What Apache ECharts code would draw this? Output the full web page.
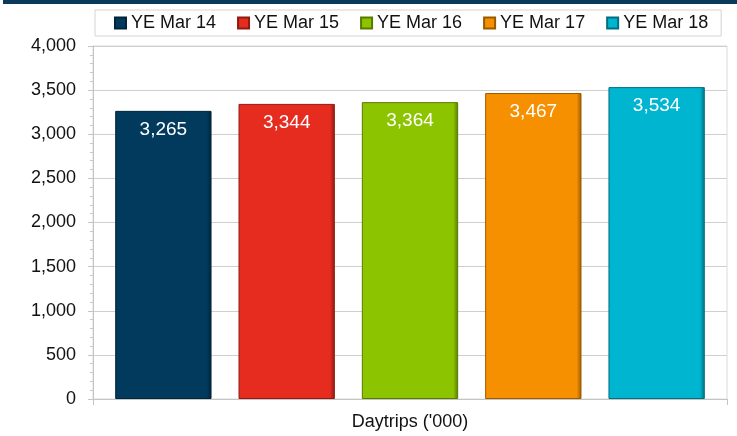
<!DOCTYPE html>
<html>
<head>
<meta charset="utf-8">
<script src="https://cdn.jsdelivr.net/npm/echarts@6/dist/echarts.min.js"></script>
<style>
  html, body { margin: 0; padding: 0; background: #fff; }
  #chart { width: 737px; height: 436px; }
</style>
</head>
<body>
<div id="chart"></div>
<script>
var categories = ["Daytrips ('000)"];
var seriesNames = ['YE Mar 14', 'YE Mar 15', 'YE Mar 16', 'YE Mar 17', 'YE Mar 18'];
var seriesValues = [3265, 3344, 3364, 3467, 3534];
var seriesColors = ['#023a5e', '#e52c1f', '#8cc400', '#f79000', '#00b5d0'];
var edgeColors = ['#01243b', '#8e1a12', '#577a00', '#9a5a00', '#006f80'];
var yTicks = [0, 500, 1000, 1500, 2000, 2500, 3000, 3500, 4000];

var font = 'Liberation Sans';

function fmt(v) {
  return Number(v).toLocaleString('en-US');
}

var chart = echarts.init(document.getElementById('chart'), null, { renderer: 'canvas' });

var series = seriesNames.map(function (name, i) {
  return {
    name: name,
    type: 'bar',
    data: [seriesValues[i]],
    barGap: '28%',
    barCategoryGap: '7%',
    itemStyle: {
      color: new echarts.graphic.LinearGradient(0, 0, 1, 0, [
        { offset: 0, color: seriesColors[i] },
        { offset: 0.95, color: seriesColors[i] },
        { offset: 1, color: edgeColors[i] }
      ]),
      borderColor: edgeColors[i],
      borderWidth: 1
    },
    label: {
      show: true,
      position: 'insideTop',
      distance: 9,
      color: '#fff',
      fontFamily: font,
      fontSize: 19,
      formatter: function (p) { return fmt(p.value); }
    },
    animation: false
  };
});

var option = {
  backgroundColor: '#fff',
  color: seriesColors,
  graphic: [{
    type: 'rect',
    left: 3,
    top: 0,
    shape: { width: 734, height: 4 },
    style: { fill: '#0b3b5c' }
  }],
  legend: {
    data: seriesNames,
    left: 95,
    top: 10,
    padding: [4, 13, 4, 19],
    itemGap: 21,
    itemWidth: 11,
    itemHeight: 11,
    icon: 'rect',
    borderColor: '#d4d4d4',
    borderWidth: 1,
    textStyle: { fontFamily: font, fontSize: 18, color: '#111' }
  },
  grid: {
    left: 93,
    right: 10,
    top: 46,
    bottom: 37,
    show: true,
    borderColor: '#dadada',
    borderWidth: 1
  },
  xAxis: {
    type: 'category',
    data: categories,
    axisLine: { lineStyle: { color: '#c4c4c4', width: 1 } },
    axisTick: { show: true, length: 6, lineStyle: { color: '#c4c4c4' } },
    axisLabel: { fontFamily: font, fontSize: 18, color: '#111', margin: 14 }
  },
  yAxis: {
    type: 'value',
    min: yTicks[0],
    max: yTicks[yTicks.length - 1],
    interval: 500,
    axisLine: { show: true, lineStyle: { color: '#c4c4c4' } },
    axisTick: { show: true, length: 5, lineStyle: { color: '#c4c4c4' } },
    minorTick: { show: true, splitNumber: 5, length: 3, lineStyle: { color: '#c8c8c8' } },
    splitLine: { lineStyle: { color: '#cfcfcf' } },
    axisLabel: {
      fontFamily: font,
      fontSize: 18,
      color: '#111',
      margin: 17,
      formatter: function (v) { return fmt(v); }
    }
  },
  series: series
};

chart.setOption(option);
</script>
</body>
</html>
